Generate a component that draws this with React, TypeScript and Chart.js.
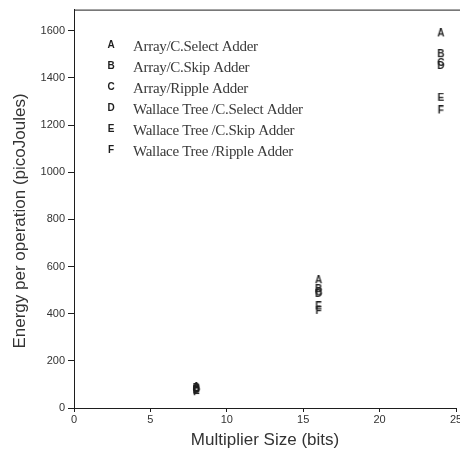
import React, { useEffect, useRef } from "react";
import { Chart, registerables } from "chart.js";

Chart.register(...registerables);

const seriesLetters = ["A", "B", "C", "D", "E", "F"];
const seriesNames = [
  "Array/C.Select Adder",
  "Array/C.Skip Adder",
  "Array/Ripple Adder",
  "Wallace Tree /C.Select Adder",
  "Wallace Tree /C.Skip Adder",
  "Wallace Tree /Ripple Adder",
];
const multiplierSizes = [8, 16, 24];
const energyA = [90, 542, 1589];
const energyB = [85, 504, 1501];
const energyC = [80, 490, 1464];
const energyD = [77, 484, 1451];
const energyE = [72, 431, 1316];
const energyF = [67, 412, 1262];
const allEnergies = [energyA, energyB, energyC, energyD, energyE, energyF];
const xTickValues = [0, 5, 10, 15, 20, 25];
const yTickValues = [0, 200, 400, 600, 800, 1000, 1200, 1400, 1600];
const xTitle = "Multiplier Size (bits)";
const yTitle = "Energy per operation (picoJoules)";

const INK = "#1e1e1e";
const SANS = "'Liberation Sans', Arial, sans-serif";

function letterMarker(letter: string): HTMLCanvasElement {
  const c = document.createElement("canvas");
  c.width = 10;
  c.height = 10;
  const ctx = c.getContext("2d")!;
  ctx.font = `bold 10px ${SANS}`;
  ctx.fillStyle = INK;
  ctx.textAlign = "center";
  ctx.textBaseline = "middle";
  ctx.fillText(letter, 5, 5.5);
  return c;
}

const frameAndLegend = {
  id: "frameAndLegend",
  afterDraw(chart: any) {
    const { ctx, chartArea } = chart;
    ctx.save();
    ctx.strokeStyle = INK;
    ctx.lineWidth = 1;
    ctx.beginPath();
    ctx.moveTo(chartArea.left, chartArea.top + 0.5);
    ctx.lineTo(chart.width, chartArea.top + 0.5);
    ctx.stroke();

    // y-axis title
    ctx.save();
    ctx.translate(20, 221);
    ctx.rotate(-Math.PI / 2);
    ctx.font = `17px ${SANS}`;
    ctx.fillStyle = "#333";
    ctx.textAlign = "center";
    ctx.textBaseline = "middle";
    ctx.fillText(yTitle, 0, 0);
    ctx.restore();

    const lx = chartArea.left + 37;
    const tx = chartArea.left + 59;
    const y0 = chartArea.top + 36;
    seriesLetters.forEach((letter, i) => {
      const y = y0 + i * 21;
      ctx.font = `bold 10px ${SANS}`;
      ctx.fillStyle = INK;
      ctx.textAlign = "center";
      ctx.textBaseline = "middle";
      ctx.fillText(letter, lx, y);
      ctx.font = "15px 'Liberation Serif', serif";
      (ctx as any).letterSpacing = "-0.3px";
      ctx.fillStyle = "#3a3a3a";
      ctx.textAlign = "left";
      ctx.fillText(seriesNames[i], tx, y + 1);
      (ctx as any).letterSpacing = "0px";
    });
    ctx.restore();
  },
};

export default function App() {
  const ref = useRef<HTMLCanvasElement>(null);

  useEffect(() => {
    document.body.style.overflow = "hidden";
    const chart = new Chart(ref.current!, {
      type: "scatter",
      data: {
        datasets: seriesLetters.map((letter, i) => ({
          label: seriesNames[i],
          data: multiplierSizes.map((x, j) => ({ x, y: allEnergies[i][j] })),
          pointStyle: letterMarker(letter) as any,
          pointRadius: 5,
          showLine: false,
        })),
      },
      options: {
        responsive: false,
        animation: false,
        layout: { padding: { top: 7, right: 24, left: 0, bottom: 0 } },
        plugins: { legend: { display: false }, tooltip: { enabled: false } },
        scales: {
          x: {
            type: "linear",
            min: 0,
            max: 25,
            afterFit: (s: any) => {
              s.height = 42;
            },
            afterBuildTicks: (s: any) => {
              s.ticks = xTickValues.map((v) => ({ value: v }));
            },
            ticks: {
              padding: 1,
              color: "#333",
              callback: (v: any) => String(v),
              font: { family: SANS, size: 11 },
            },
            grid: {
              display: true,
              drawOnChartArea: false,
              drawTicks: true,
              tickLength: 4,
              color: INK,
            },
            border: { display: true, color: INK, width: 1 },
            title: {
              display: true,
              text: xTitle,
              color: "#333",
              font: { family: SANS, size: 17, lineHeight: 1.2 },
              padding: { top: 0, bottom: -1 },
            },
          },
          y: {
            type: "linear",
            min: 0,
            max: 1690,
            afterFit: (s: any) => {
              s.width = 74;
            },
            afterBuildTicks: (s: any) => {
              s.ticks = yTickValues.map((v) => ({ value: v }));
            },
            ticks: {
              padding: 3,
              color: "#333",
              callback: (v: any) => String(v),
              font: { family: SANS, size: 11 },
            },
            grid: {
              display: true,
              drawOnChartArea: false,
              drawTicks: true,
              tickLength: 6,
              color: INK,
            },
            border: { display: true, color: INK, width: 1 },
            title: { display: false },
          },
        },
      },
      plugins: [frameAndLegend],
    });
    return () => chart.destroy();
  }, []);

  return (
    <div style={{ position: "absolute", left: 0, top: 0, width: 480, height: 450 }}>
      <canvas ref={ref} width={480} height={450} />
    </div>
  );
}
